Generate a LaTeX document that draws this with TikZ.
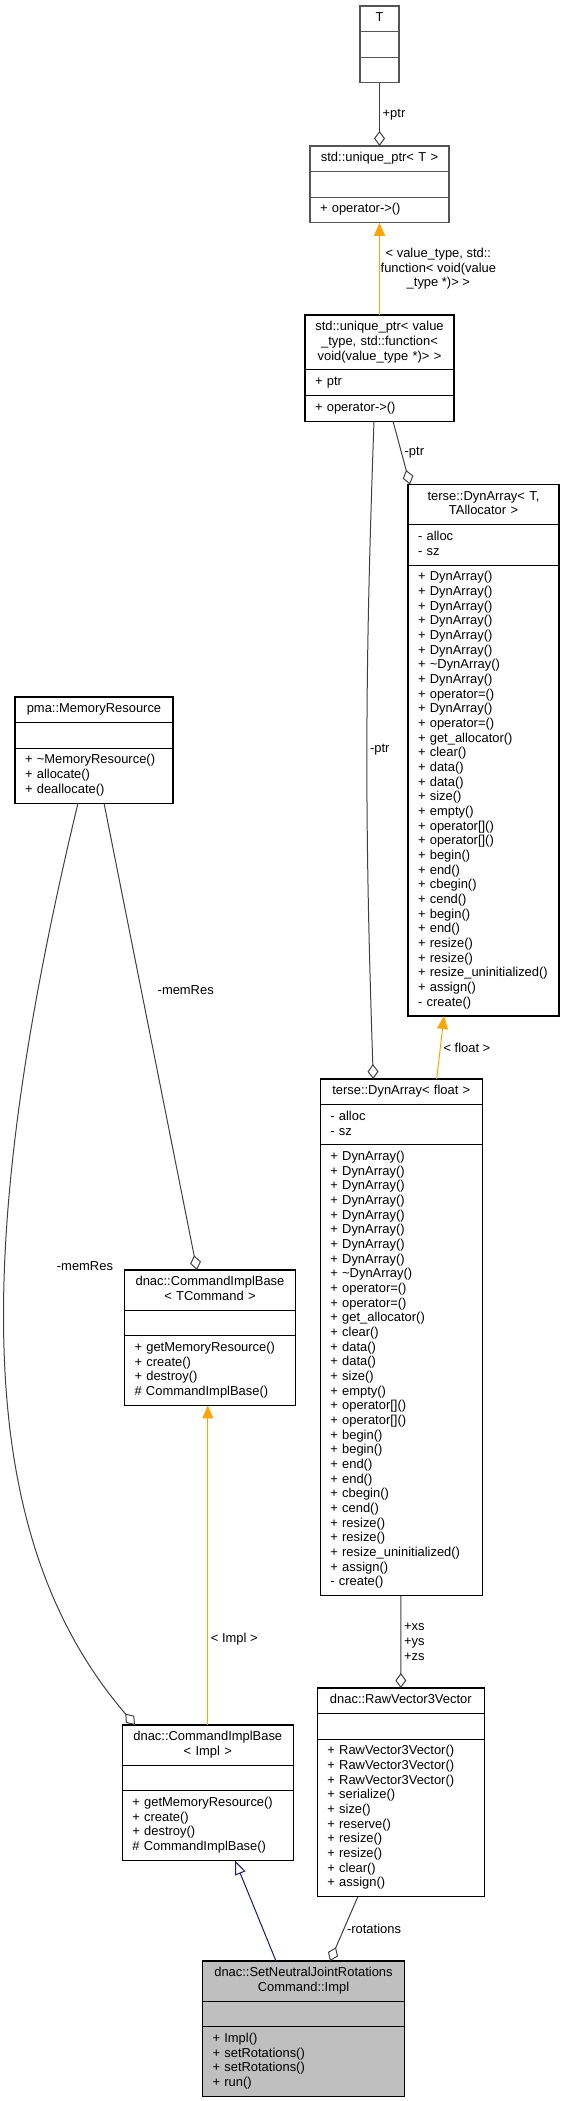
\documentclass[tikz,border=0pt]{standalone}
\usepackage{fontspec}
\setmainfont{Liberation Sans}
\usetikzlibrary{positioning, arrows.meta, calc}
\definecolor{edgegray}{HTML}{404040}
\definecolor{extgray}{HTML}{555555}
\definecolor{tmplorange}{HTML}{FFA500}
\definecolor{inhblue}{HTML}{191970}
\definecolor{implgray}{HTML}{BFBFBF}
\newcommand{\clsfont}{\fontsize{9.7pt}{11pt}\selectfont}
\hyphenpenalty=10000

\begin{document}
\begin{tikzpicture}[
  x=0.75pt, y=-0.75pt,
  part/.style={
    draw=black, fill=white, line width=0.8pt, outer sep=0pt,
    inner ysep=4.1pt, font=\clsfont,
    execute at begin node=\strut, execute at end node=\strut
  },
  head/.style={part, anchor=north, align=center, inner xsep=3pt,
    minimum width=#1*0.75pt, text width=(#1-8)*0.75pt},
  body/.style={part, align=left, inner xsep=7.5pt,
    minimum width=#1*0.75pt, text width=(#1-20)*0.75pt},
  lbl/.style={font=\clsfont, inner sep=2pt},
  agg/.style={draw=edgegray, line width=0.75pt,
    -{Diamond[open, length=11.25pt, width=8.25pt]}},
  tmpl/.style={draw=tmplorange, line width=0.75pt,
    -{Triangle[length=9.75pt, width=8.25pt]}},
  inh/.style={draw=inhblue, line width=0.75pt,
    -{Triangle[open, length=10.5pt, width=8.25pt, fill=white]}},
]
\useasboundingbox (0,0) rectangle (564,2101);

% T
\node[head=39, draw=extgray] (tcls) at (379.5,6) {T};
\node[body=39, draw=extgray, below=0pt of tcls] (tcls-a) {};
\node[body=39, draw=extgray, below=0pt of tcls-a] (tcls-m) {};

% std::unique_ptr< T >
\node[head=139, draw=extgray] (uptr) at (379.5,146) {std::unique\_ptr< T >};
\node[body=139, draw=extgray, below=0pt of uptr] (uptr-a) {};
\node[body=139, draw=extgray, below=0pt of uptr-a] (uptr-m) {+~operator->()};

% std::unique_ptr< value_type, ... >
\node[head=149] (uptrfn) at (379.5,315)
  {std::unique\_ptr< value\\\_type, std::function<\\void(value\_type *)> >};
\node[body=149, below=0pt of uptrfn] (uptrfn-a) {+~ptr};
\node[body=149, below=0pt of uptrfn-a] (uptrfn-m) {+~operator->()};

% terse::DynArray< T, TAllocator >
\node[head=151] (dynarr) at (483.5,484.5) {terse::DynArray< T,\\TAllocator >};
\node[body=151, below=0pt of dynarr] (dynarr-a) {-~alloc\\-~sz};
\node[body=151, below=0pt of dynarr-a] (dynarr-m) {+~DynArray()\\+~DynArray()\\+~DynArray()\\+~DynArray()\\+~DynArray()\\+~DynArray()\\+~\textasciitilde DynArray()\\+~DynArray()\\+~operator=()\\+~DynArray()\\+~operator=()\\+~get\_allocator()\\+~clear()\\+~data()\\+~data()\\+~size()\\+~empty()\\+~operator[]()\\+~operator[]()\\+~begin()\\+~end()\\+~cbegin()\\+~cend()\\+~begin()\\+~end()\\+~resize()\\+~resize()\\+~resize\_uninitialized()\\+~assign()\\-~create()};

% pma::MemoryResource
\node[head=158] (memres) at (94,697) {pma::MemoryResource};
\node[body=158, below=0pt of memres] (memres-a) {};
\node[body=158, below=0pt of memres-a] (memres-m) {+~\textasciitilde MemoryResource()\\+~allocate()\\+~deallocate()};

% dnac::CommandImplBase< TCommand >
\node[head=171] (cibt) at (210,1270) {dnac::CommandImplBase\\< TCommand >};
\node[body=171, below=0pt of cibt] (cibt-a) {};
\node[body=171, below=0pt of cibt-a] (cibt-m) {+~getMemoryResource()\\+~create()\\+~destroy()\\\#~CommandImplBase()};

% terse::DynArray< float >
\node[head=162] (dynflt) at (401.3,1079) {terse::DynArray< float >};
\node[body=162, below=0pt of dynflt] (dynflt-a) {-~alloc\\-~sz};
\node[body=162, below=0pt of dynflt-a] (dynflt-m) {+~DynArray()\\+~DynArray()\\+~DynArray()\\+~DynArray()\\+~DynArray()\\+~DynArray()\\+~DynArray()\\+~DynArray()\\+~\textasciitilde DynArray()\\+~operator=()\\+~operator=()\\+~get\_allocator()\\+~clear()\\+~data()\\+~data()\\+~size()\\+~empty()\\+~operator[]()\\+~operator[]()\\+~begin()\\+~begin()\\+~end()\\+~end()\\+~cbegin()\\+~cend()\\+~resize()\\+~resize()\\+~resize\_uninitialized()\\+~assign()\\-~create()};

% dnac::RawVector3Vector
\node[head=167] (rawvec) at (400.8,1688) {dnac::RawVector3Vector};
\node[body=167, below=0pt of rawvec] (rawvec-a) {};
\node[body=167, below=0pt of rawvec-a] (rawvec-m) {+~RawVector3Vector()\\+~RawVector3Vector()\\+~RawVector3Vector()\\+~serialize()\\+~size()\\+~reserve()\\+~resize()\\+~resize()\\+~clear()\\+~assign()};

% dnac::CommandImplBase< Impl >
\node[head=171] (cibi) at (207.8,1725) {dnac::CommandImplBase\\< Impl >};
\node[body=171, below=0pt of cibi] (cibi-a) {};
\node[body=171, below=0pt of cibi-a] (cibi-m) {+~getMemoryResource()\\+~create()\\+~destroy()\\\#~CommandImplBase()};

% dnac::SetNeutralJointRotationsCommand::Impl
\node[head=202, fill=implgray] (impl) at (303.5,1961) {dnac::SetNeutralJointRotations\\Command::Impl};
\node[body=202, fill=implgray, below=0pt of impl] (impl-a) {};
\node[body=202, fill=implgray, below=0pt of impl-a] (impl-m) {+~Impl()\\+~setRotations()\\+~setRotations()\\+~run()};

% connectors
\draw[agg] (tcls-m) -- node[lbl, right] {+ptr} (uptr);
\draw[tmpl] (uptrfn) -- node[lbl, right, align=center, inner sep=0.5pt]
  {< value\_type, std::\\function< void(value\\\_type *)> >} (uptr-m);
\draw[agg] ($(uptrfn-m.south)+(13.5,0)$) -- node[lbl, right] {-ptr}
  ($(dynarr.north)+(-73.5,0)$);
\draw[agg] ($(uptrfn-m.south)+(-5.5,0)$) to[bend right=2] node[lbl, right] {-ptr}
  ($(dynflt.north)+(-28,0)$);
\draw[tmpl] ($(dynflt.north)+(35.4,0)$) -- node[lbl, right] {< float >}
  ($(dynarr-m.south)+(-39.5,0)$);
\draw[agg] ($(memres-m.south)+(10,0)$) -- node[lbl, pos=0.4, right=10pt] {-memRes}
  ($(cibt.north)+(-13,0)$);
\draw[agg] ($(memres-m.south)+(-16,0)$) .. controls (-34,1269) and (-21,1543) ..
  ($(cibi.north)+(-72.8,0)$);
\node[lbl, anchor=west] (memlbl) at (54,1266) {-memRes};
\draw[tmpl] (cibi.north) -- node[lbl, pos=0.27, right] {< Impl >}
  (cibi.north |- cibt-m.south);
\draw[agg] (dynflt-m) -- node[lbl, right, align=left] {+xs\\+ys\\+zs} (rawvec);
\draw[inh] ($(impl.north)+(-27.5,0)$) -- ($(cibi-m.south)+(27.2,0)$);
\draw[agg] ($(rawvec-m.south)+(-43,0)$) -- node[lbl, right] {-rotations}
  ($(impl.north)+(26.5,0)$);
\end{tikzpicture}
\end{document}
